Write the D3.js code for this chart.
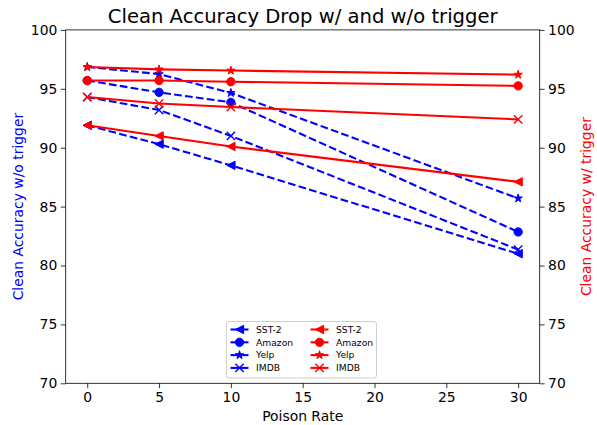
<!DOCTYPE html>
<html>
<head>
<meta charset="utf-8">
<script src="https://cdn.jsdelivr.net/npm/d3@7"></script>
<style>
  body { margin: 0; background: #fff; }
  text { font-family: "DejaVu Sans", sans-serif; }
</style>
</head>
<body>
<svg id="chart" width="597" height="425"></svg>
<script>
// Poison rates on the x axis
const poisonRates = [0, 5, 10, 30];
const datasets = ["SST-2", "Amazon", "Yelp", "IMDB"];

// accuracy without trigger (left axis, blue dashed)
const woSST2 = [91.9, 90.3, 88.5, 81.0];
const woAmazon = [95.7, 94.7, 93.85, 82.85];
const woYelp = [96.85, 96.25, 94.65, 85.7];
const woIMDB = [94.3, 93.2, 91.0, 81.35];

// accuracy with trigger (right axis, red solid)
const wSST2 = [91.9, 91.0, 90.1, 87.1];
const wAmazon = [95.7, 95.7, 95.6, 95.25];
const wYelp = [96.85, 96.65, 96.55, 96.2];
const wIMDB = [94.3, 93.75, 93.45, 92.4];

const xTicks = [0, 5, 10, 15, 20, 25, 30];
const yTicks = [70, 75, 80, 85, 90, 95, 100];

const markers = ["triLeft", "circle", "star", "x"];

const svg = d3.select("#chart");
const margin = {left: 65.7, right: 539.7, top: 29.9, bottom: 383.3};

const x = d3.scaleLinear().domain([-1.5, 31.5]).range([margin.left, margin.right]);
const yL = d3.scaleLinear().domain([70, 100]).range([margin.bottom, margin.top]);
const yR = d3.scaleLinear().domain([70, 100]).range([margin.bottom, margin.top]);

// marker paths, radius r
function markerPath(type, r) {
  if (type === "circle") {
    return `M${r},0A${r},${r} 0 1,1 ${-r},0A${r},${r} 0 1,1 ${r},0Z`;
  }
  if (type === "triLeft") {
    return `M${-r},0L${r},${-r}L${r},${r}Z`;
  }
  if (type === "x") {
    return `M${-r},${-r}L${r},${r}M${-r},${r}L${r},${-r}`;
  }
  // star
  const inner = r * 0.381966;
  let p = "";
  for (let i = 0; i < 10; i++) {
    const rad = i % 2 === 0 ? r : inner;
    const a = -Math.PI / 2 + i * Math.PI / 5;
    p += (i === 0 ? "M" : "L") + (rad * Math.cos(a)).toFixed(2) + "," + (rad * Math.sin(a)).toFixed(2);
  }
  return p + "Z";
}

function drawMarker(g, type, cx, cy, color) {
  const r = type === "star" ? 4.4 : 4.17;
  g.append("path")
    .attr("d", markerPath(type, r))
    .attr("transform", `translate(${cx},${cy})`)
    .attr("fill", type === "x" ? "none" : color)
    .attr("stroke", color)
    .attr("stroke-width", type === "x" ? 1.4 : 1);
}

const line = (scale) => d3.line().x((d, i) => x(poisonRates[i])).y(d => scale(d));

// spines and axes
const axisG = svg.append("g");

axisG.append("g")
  .attr("transform", `translate(0,${margin.bottom})`)
  .call(d3.axisBottom(x).tickValues(xTicks).tickSize(4.9).tickPadding(3.5));
axisG.append("g")
  .attr("transform", `translate(${margin.left},0)`)
  .call(d3.axisLeft(yL).tickValues(yTicks).tickSize(4.9).tickPadding(3.5));
axisG.append("g")
  .attr("transform", `translate(${margin.right},0)`)
  .call(d3.axisRight(yR).tickValues(yTicks).tickSize(4.9).tickPadding(3.5));

axisG.selectAll(".domain").remove();
axisG.selectAll(".tick line").attr("stroke", "#000").attr("stroke-width", 0.8);
axisG.selectAll(".tick text").attr("font-size", 13.9).attr("fill", "#000")
  .attr("font-family", "DejaVu Sans, sans-serif");

svg.append("rect")
  .attr("x", margin.left).attr("y", margin.top)
  .attr("width", margin.right - margin.left)
  .attr("height", margin.bottom - margin.top)
  .attr("fill", "none").attr("stroke", "#000").attr("stroke-width", 0.8);

// blue series (without trigger)
const blueSeries = [woSST2, woAmazon, woYelp, woIMDB];
const redSeries = [wSST2, wAmazon, wYelp, wIMDB];

const plot = svg.append("g");

blueSeries.forEach((vals, k) => {
  plot.append("path")
    .attr("d", line(yL)(vals))
    .attr("fill", "none")
    .attr("stroke", "blue")
    .attr("stroke-width", 2.08)
    .attr("stroke-dasharray", "7.7,3.3");
  vals.forEach((v, i) => drawMarker(plot, markers[k], x(poisonRates[i]), yL(v), "blue"));
});

redSeries.forEach((vals, k) => {
  plot.append("path")
    .attr("d", line(yR)(vals))
    .attr("fill", "none")
    .attr("stroke", "red")
    .attr("stroke-width", 2.08);
  vals.forEach((v, i) => drawMarker(plot, markers[k], x(poisonRates[i]), yR(v), "red"));
});

// titles and labels
svg.append("text")
  .attr("x", (margin.left + margin.right) / 2)
  .attr("y", 23)
  .attr("text-anchor", "middle")
  .attr("font-size", 19.6)
  .text("Clean Accuracy Drop w/ and w/o trigger");

svg.append("text")
  .attr("x", (margin.left + margin.right) / 2)
  .attr("y", 421)
  .attr("text-anchor", "middle")
  .attr("font-size", 13.9)
  .text("Poison Rate");

const midY = (margin.top + margin.bottom) / 2;
svg.append("text")
  .attr("transform", `translate(23,${midY}) rotate(-90)`)
  .attr("text-anchor", "middle")
  .attr("font-size", 13.9)
  .attr("fill", "blue")
  .text("Clean Accuracy w/o trigger");

svg.append("text")
  .attr("transform", `translate(591,${midY}) rotate(-90)`)
  .attr("text-anchor", "middle")
  .attr("font-size", 13.9)
  .attr("fill", "red")
  .text("Clean Accuracy w/ trigger");

// legend
const leg = svg.append("g").attr("transform", "translate(226.5,321.5)");
leg.append("rect")
  .attr("width", 150).attr("height", 56.5)
  .attr("rx", 2.5)
  .attr("fill", "#fff").attr("fill-opacity", 0.8)
  .attr("stroke", "#d0d0d0").attr("stroke-width", 1);

[["blue", 4], ["red", 84]].forEach(([color, dx]) => {
  datasets.forEach((name, k) => {
    const yy = 8 + k * 12.8;
    leg.append("line")
      .attr("x1", dx).attr("x2", dx + 18)
      .attr("y1", yy).attr("y2", yy)
      .attr("stroke", color).attr("stroke-width", 2.08);
    drawMarker(leg, markers[k], dx + 9, yy, color);
    leg.append("text")
      .attr("x", dx + 25.5).attr("y", yy + 3.3)
      .attr("font-size", 9.2)
      .text(name);
  });
});
</script>
</body>
</html>
